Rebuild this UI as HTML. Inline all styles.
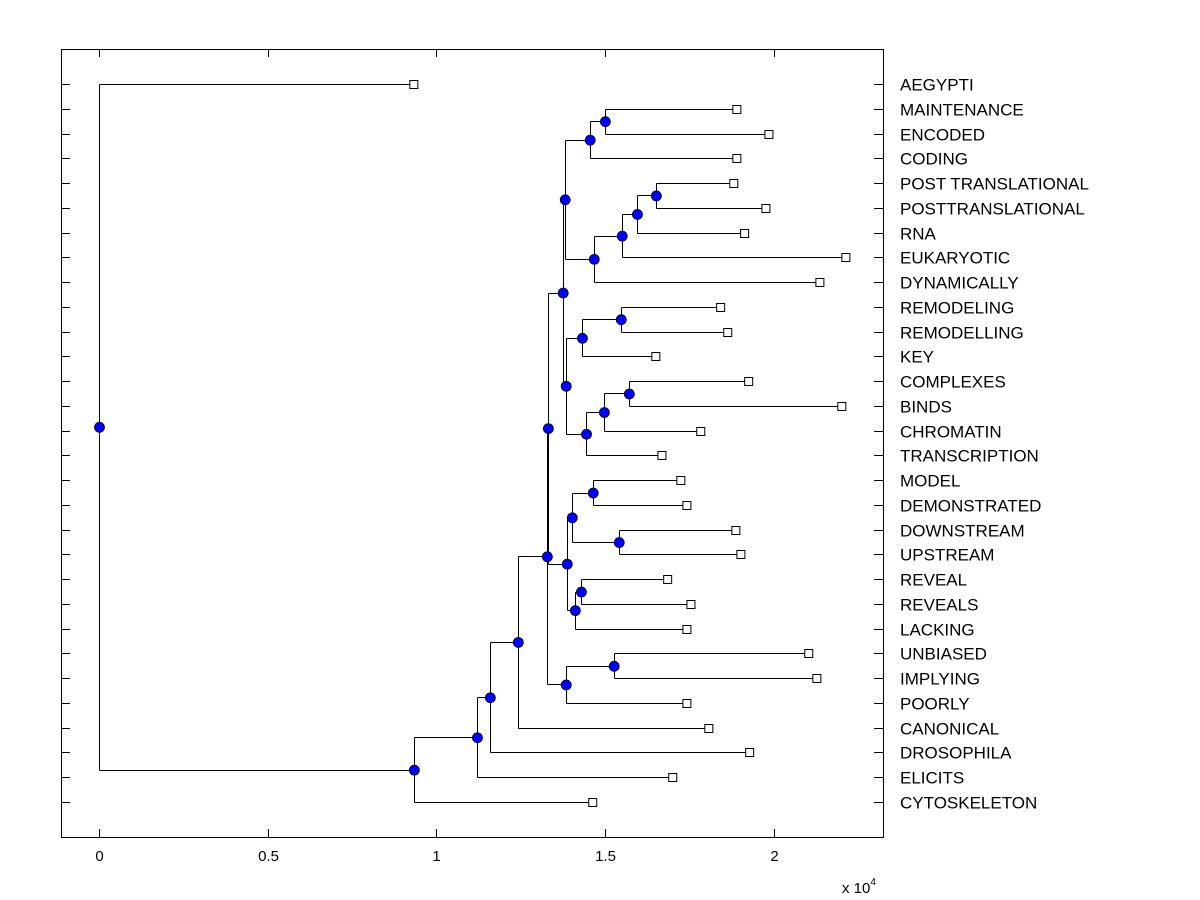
<!DOCTYPE html>
<html><head><meta charset="utf-8"><style>
body{margin:0;background:#fff;}
svg{display:block;font-family:"Liberation Sans",Arial,sans-serif;}
</style></head><body>
<svg id="c" width="1200" height="900"></svg>
<script>
const leafNames=["AEGYPTI","MAINTENANCE","ENCODED","CODING","POST TRANSLATIONAL","POSTTRANSLATIONAL","RNA","EUKARYOTIC","DYNAMICALLY","REMODELING","REMODELLING","KEY","COMPLEXES","BINDS","CHROMATIN","TRANSCRIPTION","MODEL","DEMONSTRATED","DOWNSTREAM","UPSTREAM","REVEAL","REVEALS","LACKING","UNBIASED","IMPLYING","POORLY","CANONICAL","DROSOPHILA","ELICITS","CYTOSKELETON"];
const leafDist=[0.933,1.890,1.985,1.890,1.881,1.976,1.913,2.213,2.136,1.842,1.863,1.650,1.925,2.201,1.783,1.668,1.724,1.742,1.887,1.902,1.685,1.754,1.742,2.103,2.127,1.742,1.807,1.928,1.700,1.463];
const nodeChildren=[[1,2],[30,3],[4,5],[32,6],[33,7],[34,8],[31,35],[9,10],[37,11],[12,13],[39,14],[40,15],[38,41],[36,42],[16,17],[18,19],[44,45],[20,21],[47,22],[46,48],[43,49],[23,24],[25,51],[50,52],[53,26],[54,27],[55,28],[29,56],[0,57]];
const nodeDist=[1.499,1.454,1.650,1.594,1.549,1.466,1.380,1.546,1.431,1.570,1.496,1.443,1.383,1.374,1.463,1.540,1.401,1.428,1.410,1.386,1.330,1.525,1.383,1.327,1.241,1.158,1.120,0.933,0];
const xTicks=[0,0.5,1,1.5,2];
const xTickLabels=["0","0.5","1","1.5","2"];

const L=61,T=49,R=883,B=837;
const xMin=-0.1125,xMax=2.323;
const sx=v=>L+(v-xMin)/(xMax-xMin)*(R-L);
const y0=84,dy=(802-84)/29;
const sy=i=>y0+i*dy;
const svg=document.getElementById('c');
const NS='http://www.w3.org/2000/svg';
function mk(t,a){const e=document.createElementNS(NS,t);for(const k in a)e.setAttribute(k,a[k]);svg.appendChild(e);return e;}

const N=leafNames.length;
const X=[],Y=[];
for(let i=0;i<N;i++){X[i]=sx(leafDist[i]);Y[i]=sy(i);}
for(let j=0;j<nodeChildren.length;j++){const [a,b]=nodeChildren[j];X[N+j]=sx(nodeDist[j]);Y[N+j]=(Y[a]+Y[b])/2;}

const box=mk('rect',{x:L+0.5,y:T+0.5,width:R-L,height:B-T,fill:'none',stroke:'#000','stroke-width':1});


for(let k=0;k<xTicks.length;k++){
  const x=Math.round(sx(xTicks[k]))+0.5;
  const t1=mk('line',{x1:x,y1:B,x2:x,y2:B-8,stroke:'#000'});
  
  
  const t2=mk('line',{x1:x,y1:T,x2:x,y2:T+8,stroke:'#000'});
  
  
  const tl=mk('text',{x:x,y:861,'font-size':15,'text-anchor':'middle'});
  tl.textContent=xTickLabels[k];
  
  
}
const ex=mk('text',{x:842,y:893,'font-size':15});
ex.innerHTML='x 10<tspan dy="-8" font-size="10">4</tspan>';



for(let i=0;i<N;i++){
  const y=Math.round(Y[i])+0.5;
  const a=mk('line',{x1:L,y1:y,x2:L+9,y2:y,stroke:'#000'});
  
  
  const b=mk('line',{x1:R,y1:y,x2:R-9,y2:y,stroke:'#000'});
  
  
  const t=mk('text',{x:900,y:y+6,'font-size':17});
  t.textContent=leafNames[i];
  
  
}
for(let j=0;j<nodeChildren.length;j++){
  const p=N+j,[a,b]=nodeChildren[j];
  const px=Math.round(X[p])+0.5;
  const v=mk('line',{x1:px,y1:Math.round(Y[a])+0.5,x2:px,y2:Math.round(Y[b])+0.5,stroke:'#000'});
  
  
  for(const c of [a,b]){
    const h=mk('line',{x1:px,y1:Math.round(Y[c])+0.5,x2:X[c],y2:Math.round(Y[c])+0.5,stroke:'#000'});
    
    
  }
}
for(let i=0;i<N;i++){
  const s=mk('rect',{x:X[i]-4,y:Math.round(Y[i])-3.5,width:8,height:8,fill:'#fff',stroke:'#000'});
  
  
}
for(let j=0;j<nodeChildren.length;j++){
  const p=N+j;
  const c=mk('circle',{cx:X[p]+0.5,cy:Y[p]+0.5,r:5,fill:'#0000ff',stroke:'#000','stroke-width':0.8});
  
  
}
</script>
</body></html>
